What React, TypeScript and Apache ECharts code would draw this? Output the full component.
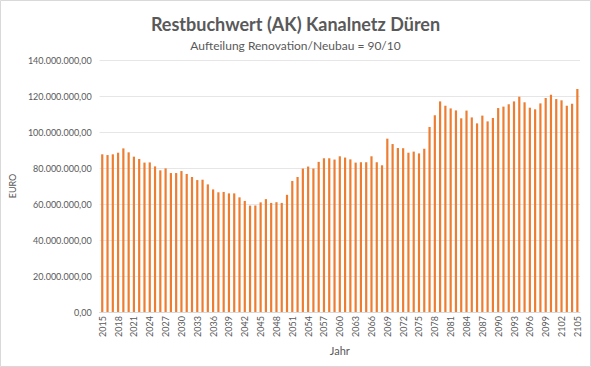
import React, { useEffect, useRef } from "react";
import * as echarts from "echarts";

const years: string[] = [];
for (let y = 2015; y <= 2105; y++) years.push(String(y));

// Restbuchwert in Mio. EUR
const valuesMio: number[] = [
  87.6, 87.2, 87.6, 88.5, 90.9, 88.7, 86.3, 85.0, 83.0, 83.1,
  80.9, 78.7, 79.8, 77.2, 77.2, 78.3, 76.7, 75.0, 73.3, 73.5,
  70.9, 68.1, 66.5, 66.7, 65.9, 65.9, 63.7, 61.7, 59.1, 59.1,
  60.9, 62.7, 60.6, 61.0, 60.6, 65.1, 72.8, 75.0, 79.7, 80.8,
  79.7, 83.4, 85.4, 85.4, 84.7, 86.5, 85.8, 84.8, 83.0, 83.2,
  83.2, 86.5, 83.2, 81.5, 96.3, 93.3, 91.1, 91.0, 88.5, 89.1,
  88.1, 90.7, 102.8, 109.3, 117.0, 114.6, 113.1, 112.0, 107.6, 111.9,
  108.1, 104.8, 109.1, 105.9, 107.8, 113.3, 114.1, 115.4, 117.0, 119.6,
  116.5, 113.5, 112.6, 115.9, 118.9, 120.7, 118.3, 117.6, 114.6, 115.7,
  123.9,
];

const title = "Restbuchwert (AK) Kanalnetz Düren";
const subtitle = "Aufteilung Renovation/Neubau = 90/10";
const yAxisName = "EURO";
const xAxisName = "Jahr";

function formatDe(v: number): string {
  const intPart = Math.round(v).toString().replace(/\B(?=(\d{3})+(?!\d))/g, ".");
  return intPart + ",00";
}

export default function App() {
  const ref = useRef<HTMLDivElement>(null);
  useEffect(() => {
    if (!ref.current) return;
    const chart = echarts.init(ref.current, undefined, { renderer: "svg" });
    const font = "Lato, 'Open Sans', sans-serif";
    chart.setOption({
      animation: false,
      backgroundColor: "#ffffff",
      textStyle: { fontFamily: font },
      title: [
        {
          text: title,
          left: "center",
          top: 10,
          textStyle: { fontSize: 18, fontWeight: "bold", color: "#595959", fontFamily: font },
        },
        {
          text: subtitle,
          left: "center",
          top: 34,
          textStyle: { fontSize: 12, fontWeight: "normal", color: "#595959", fontFamily: font },
        },
      ],
      graphic: [
        {
          type: "rect",
          shape: { x: 0.5, y: 0.5, width: 590, height: 366 },
          style: { fill: "none", stroke: "#D9D9D9", lineWidth: 1 },
          silent: true,
        },
      ],
      grid: { left: 97, right: 11, top: 60, bottom: 55, containLabel: false },
      xAxis: {
        type: "category",
        data: years,
        name: xAxisName,
        nameLocation: "middle",
        nameGap: 30,
        nameTextStyle: { fontSize: 11, color: "#595959", fontFamily: font },
        axisLine: { show: true, lineStyle: { color: "#D9D9D9" } },
        axisTick: { show: false },
        axisLabel: {
          interval: 2,
          rotate: 90,
          fontSize: 9,
          color: "#595959",
          margin: 4,
          fontFamily: font,
        },
      },
      yAxis: {
        type: "value",
        min: 0,
        max: 140000000,
        interval: 20000000,
        name: yAxisName,
        nameLocation: "middle",
        nameGap: 60,
        nameRotate: 90,
        nameTextStyle: { fontSize: 9, color: "#595959", fontFamily: font },
        axisLine: { show: false },
        axisTick: { show: false },
        splitLine: { lineStyle: { color: "#E6E6E6" } },
        axisLabel: {
          fontSize: 9,
          color: "#595959",
          margin: 8,
          fontFamily: font,
          formatter: (v: number) => formatDe(v),
        },
      },
      series: [
        {
          type: "bar",
          data: valuesMio.map((v) => v * 1000000),
          barWidth: 2.2,
          itemStyle: { color: "#ED7D31" },
        },
      ],
    });
    return () => chart.dispose();
  }, []);
  return (
    <div
      ref={ref}
      style={{ position: "fixed", left: 0, top: 0, width: 591, height: 367 }}
    />
  );
}
